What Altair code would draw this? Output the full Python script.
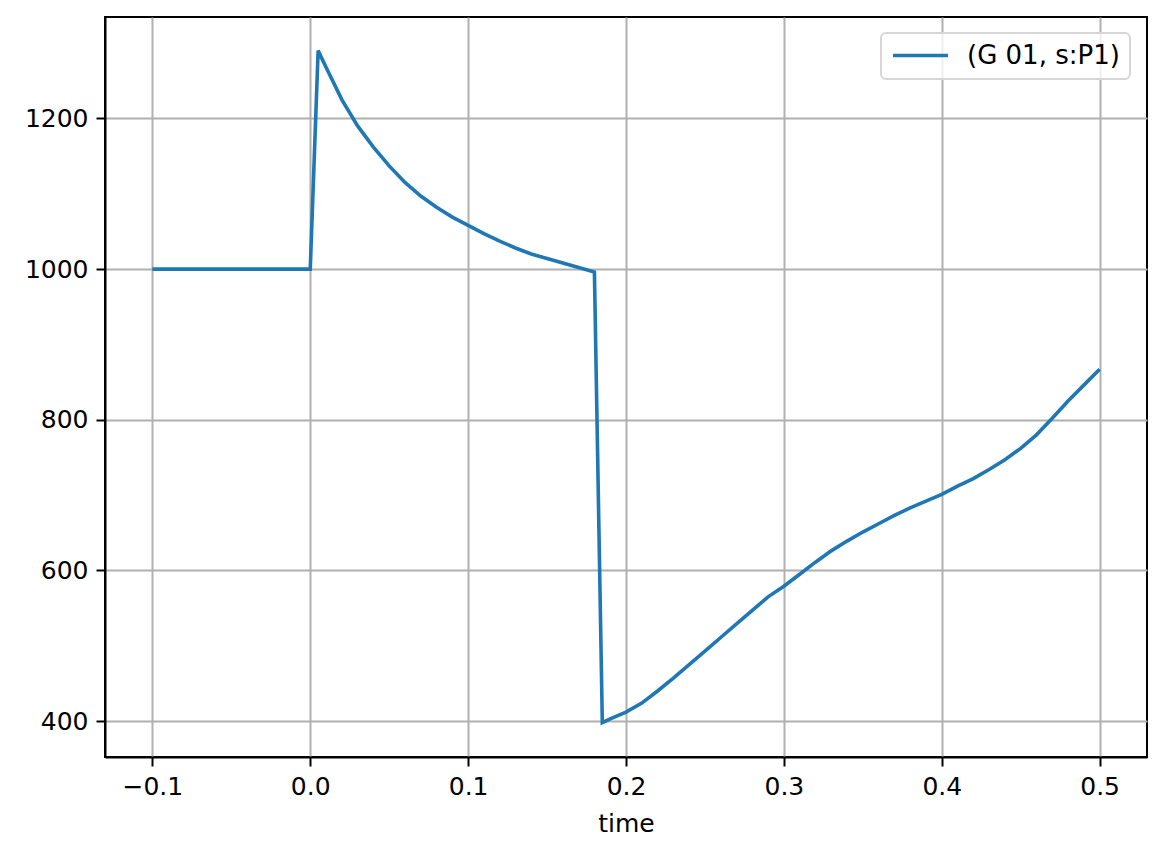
import altair as alt
import pandas as pd

series_name = "(G 01, s:P1)"

t_vals = [-0.1, 0.0, 0.005, 0.01, 0.02, 0.03, 0.04, 0.05, 0.06, 0.07, 0.08, 0.09,
          0.10, 0.11, 0.12, 0.13, 0.14, 0.15, 0.16, 0.17, 0.18, 0.185, 0.19,
          0.20, 0.21, 0.22, 0.23, 0.24, 0.25, 0.26, 0.27, 0.28, 0.29, 0.30,
          0.31, 0.32, 0.33, 0.34, 0.35, 0.36, 0.37, 0.38, 0.39, 0.40, 0.41,
          0.42, 0.43, 0.44, 0.45, 0.46, 0.47, 0.48, 0.49, 0.50]
p_vals = [1000, 1000, 1290, 1268, 1225, 1190, 1162, 1137, 1115, 1097, 1082, 1069,
          1058, 1047, 1037, 1028, 1020, 1014, 1008, 1002, 996, 398, 403,
          412, 424, 440, 457, 475, 493, 511, 529, 547, 565, 579,
          595, 611, 626, 639, 651, 662, 673, 683, 692, 701, 712,
          722, 734, 747, 762, 780, 802, 825, 846, 867]

x_ticks = [-0.1, 0.0, 0.1, 0.2, 0.3, 0.4, 0.5]
y_ticks = [400, 600, 800, 1000, 1200]

df = pd.DataFrame({"time": t_vals, "value": p_vals, "series": [series_name] * len(t_vals)})

FONT = "DejaVu Sans"

chart = alt.Chart(df).mark_line(strokeWidth=3.6, clip=True).encode(
    x=alt.X("time:Q",
            scale=alt.Scale(domain=[-0.13, 0.53], nice=False, zero=False),
            axis=alt.Axis(title="time", values=x_ticks, format=".1f")),
    y=alt.Y("value:Q",
            scale=alt.Scale(domain=[352.4, 1334.6], nice=False, zero=False),
            axis=alt.Axis(title=None, values=y_ticks, format="d")),
    color=alt.Color("series:N",
                    scale=alt.Scale(range=["#1f77b4"]),
                    legend=alt.Legend(title=None, orient="none", legendX=776, legendY=16)),
).properties(
    width=1042, height=740,
    padding={"left": 97, "top": 9, "right": 11, "bottom": 93},
    autosize="none",
    background="white",
).configure_view(
    stroke="black", strokeWidth=2, fill="white"
).configure_axis(
    domain=True, domainColor="black", domainWidth=2,
    grid=True, gridColor="#b0b0b0", gridWidth=2,
    ticks=True, tickColor="black", tickWidth=2, tickSize=9,
    labelFont=FONT, labelFontSize=25, labelColor="black", labelPadding=8,
    titleFont=FONT, titleFontSize=25, titleFontWeight="normal", titleColor="black",
    titlePadding=12,
).configure_legend(
    symbolType="stroke", symbolSize=3025, symbolStrokeWidth=3.6,
    clipHeight=25,
    labelFont=FONT, labelFontSize=26, labelColor="black", labelOffset=17,
    padding=10, cornerRadius=5, strokeColor="#d6d6d6",
    fillColor="rgba(255,255,255,0.8)", strokeWidth=2,
)

chart.save("out.html", embed_options={"renderer": "svg", "actions": False})
